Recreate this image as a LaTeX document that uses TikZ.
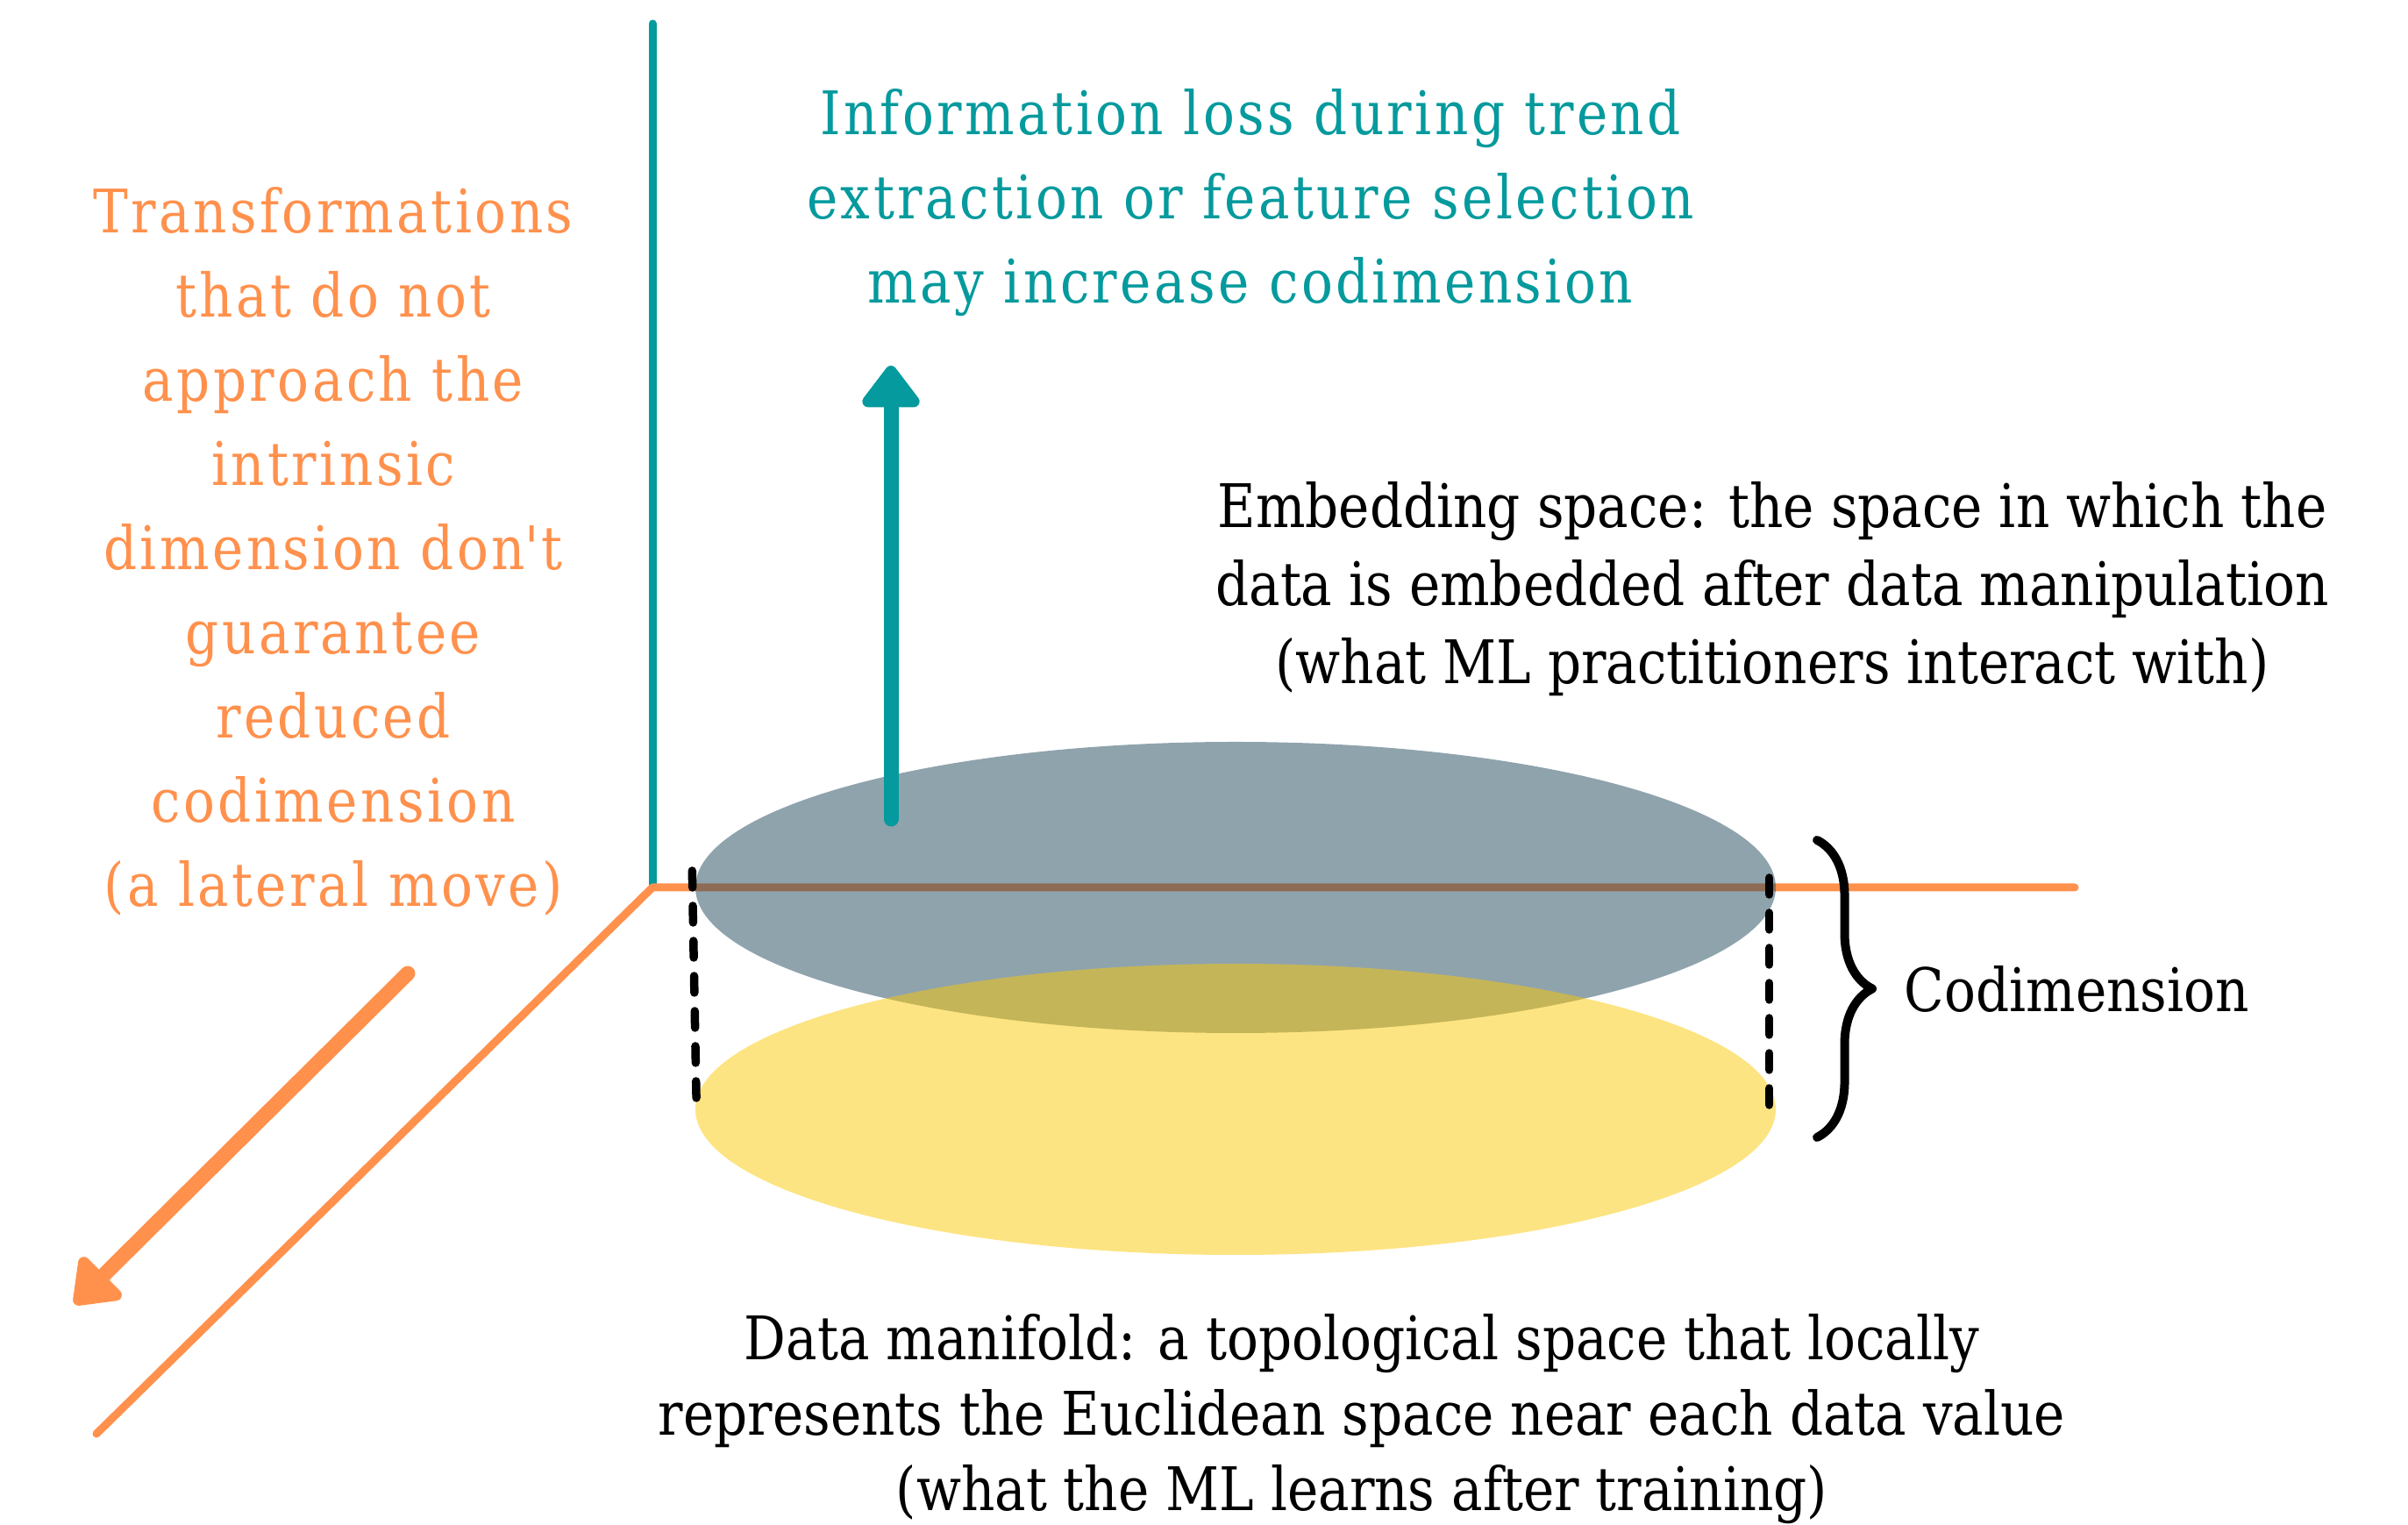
\documentclass[tikz,border=0pt]{standalone}
\usepackage{fontspec}
\setmainfont{DejaVu Serif}[FakeStretch=0.87]
\usetikzlibrary{arrows.meta}
\usetikzlibrary{shapes.geometric}
\usetikzlibrary{decorations.pathreplacing}

\definecolor{axisorange}{HTML}{FF914D}
\definecolor{axisteal}{HTML}{059A9D}
\definecolor{embedgray}{HTML}{1F475B}
\definecolor{manifoldyellow}{HTML}{FBC905}

\begin{document}
\begin{tikzpicture}[%
        line cap = round,
        line join = round,
        axis/.style = {line width = 0.09cm},
        bigarrow/.style = {line width = 0.17cm, -{Triangle[width=0.75cm,length=0.52cm,round]}},
        dashline/.style = {black, line width = 0.095cm, dash pattern = on 0.19cm off 0.21cm},
        disc/.style = {ellipse, minimum width = 12.32cm, minimum height = 3.32cm, inner sep = 0pt, fill opacity = 0.5},
        textblock/.style = {align = center, font = \fontsize{19.5}{25.3}\selectfont},
        movetext/.style = {align = center, font = \fontsize{19.5}{27.3}\selectfont\addfontfeatures{LetterSpace=5}},
        codimbrace/.style = {decoration = {brace, amplitude = 0.63cm}, decorate, line width = 0.1cm},
        ]

\useasboundingbox (0,0) rectangle (27.46,17.38);

% axes
\coordinate (O) at (7.44,7.26);
\coordinate (ztop) at (7.44,17.11);
\coordinate (xend) at (23.66,7.26);
\coordinate (yend) at (1.10,1.03);

\draw[axis, axisteal] (O) -- (ztop);
\draw[axis, axisorange] (xend) -- (O) -- (yend);

% embedding space over the data manifold
\node (emb) [disc, fill = embedgray] at (14.09,7.26) {};
\node (man) [disc, fill = manifoldyellow] at (14.09,4.73) {};

\draw[dashline] ([xshift=-0.03cm,yshift=0.19cm]emb.west) -- ([xshift=0.02cm]man.west);
\draw[dashline] ([xshift=-0.08cm,yshift=0.11cm]emb.east) -- ([xshift=-0.08cm]man.east);

% moves
\coordinate (up0) at (10.16,8.04);
\coordinate (up1) at (10.16,13.21);
\coordinate (lat0) at (4.65,6.28);
\coordinate (lat1) at (0.85,2.51);

\draw[bigarrow, axisteal] (up0) -- (up1);
\draw[bigarrow, axisorange] (lat0) -- (lat1);

% codimension brace
\coordinate (brtop) at (20.72,7.80);
\coordinate (brbot) at (20.72,4.41);
\draw[codimbrace] (brtop) -- (brbot)
    node (codim) [midway, anchor = west, xshift = 0.83cm, textblock] {Codimension};

% labels
\node (loss) [movetext, axisteal] at (14.26,15.07)
    {Information loss during trend\\extraction or feature selection\\may increase codimension};

\node (lateral) [movetext, axisorange] at (3.80,11.09)
    {Transformations\\that do not\\approach the\\intrinsic\\dimension don\textquotesingle t\\guarantee\\reduced\\codimension\\(a lateral move)};

\node (embtext) [textblock] at (20.21,10.66)
    {Embedding space: the space in which the\\data is embedded after data manipulation\\(what ML practitioners interact with)};

\node (mantext) [textblock, font = \fontsize{19.5}{24.4}\selectfont] at (15.53,1.20)
    {Data manifold: a topological space that locally\\represents the Euclidean space near each data value\\(what the ML learns after training)};

\end{tikzpicture}
\end{document}
